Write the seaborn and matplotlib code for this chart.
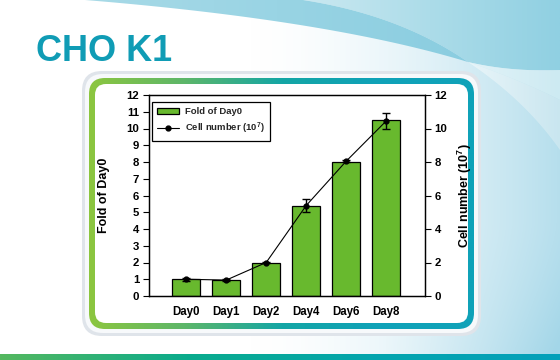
import numpy as np
import matplotlib
matplotlib.use("Agg")
import matplotlib.pyplot as plt
import seaborn as sns
from matplotlib.patches import FancyBboxPatch, Polygon, Rectangle
from matplotlib.lines import Line2D
from matplotlib.colors import LinearSegmentedColormap

# ---------------- data ----------------
days = ["Day0", "Day1", "Day2", "Day4", "Day6", "Day8"]
fold_of_day0 = [1.0, 0.97, 1.95, 5.4, 8.0, 10.5]
cell_number = [1.0, 0.95, 2.0, 5.4, 8.05, 10.45]
cell_err = [0.1, 0.08, 0.05, 0.4, 0.05, 0.5]
left_ticks = list(range(0, 13))
right_ticks = [0, 2, 4, 6, 8, 10, 12]
title = "CHO K1"
left_label = "Fold of Day0"
right_label = "Cell number (10$^{7}$)"
legend_labels = ["Fold of Day0", "Cell number (10$^{7}$)"]

# ---------------- style ----------------
sns.set_theme(style="white")
plt.rcParams['font.family'] = ['Liberation Sans', 'DejaVu Sans']
plt.rcParams['font.weight'] = 'bold'
plt.rcParams['mathtext.fontset'] = 'custom'
plt.rcParams['mathtext.rm'] = 'Liberation Sans:bold'
plt.rcParams['mathtext.it'] = 'Liberation Sans:bold'
plt.rcParams['mathtext.bf'] = 'Liberation Sans:bold'

W, H = 560, 360
fig = plt.figure(figsize=(5.6, 3.6), dpi=100)
bg = fig.add_axes([0, 0, 1, 1], zorder=0)
bg.set_xlim(0, W)
bg.set_ylim(H, 0)
bg.axis('off')

# background gradient
yy, xx = np.mgrid[0:H, 0:W].astype(float)
w = np.clip((xx - 250) / 310, 0, 1) ** 1.6 * 0.8 + np.clip((yy - 220) / 140, 0, 1) ** 1.5 * 0.25 * np.clip((xx - 380) / 180, 0, 1)
w = np.clip(w, 0, 1)[..., None]
white = np.array([1.0, 1.0, 1.0])
tint = np.array([0.64, 0.84, 0.91])
img = white * (1 - w) + tint * w
bg.imshow(img, extent=[0, W, H, 0], aspect='auto', zorder=0, interpolation='bilinear')


def bez(p0, p1, p2, n=60):
    t = np.linspace(0, 1, n)[:, None]
    p0, p1, p2 = map(np.array, (p0, p1, p2))
    return (1 - t) ** 2 * p0 + 2 * (1 - t) * t * p1 + t ** 2 * p2


def grad_fill(ax, verts, colors, extent, horizontal=True, z=1, alpha=1.0):
    poly = Polygon(verts, closed=True, facecolor='none', edgecolor='none')
    ax.add_patch(poly)
    cmap = LinearSegmentedColormap.from_list('g', colors)
    g = np.linspace(0, 1, 256)
    arr = g[None, :] if horizontal else g[:, None]
    im = ax.imshow(arr, cmap=cmap, extent=extent, aspect='auto', zorder=z,
                   interpolation='bilinear', alpha=alpha)
    im.set_clip_path(poly)


# swoosh
meet = (468, 62)
curveA = bez((85, 0), (330, 20), meet)
curveB = bez((303, 0), (400, 15), meet)
right_up = bez(meet, (510, 72), (560, 70))
right_lo = bez(meet, (520, 80), (560, 100))
# region above B (top right)
vA = np.vstack([curveB, right_up, [[560, 0]]])
grad_fill(bg, vA, ['#cbe9f1', '#acdce9', '#90d0e2'], [300, 560, 70, 0], z=1)
# band between A and B
vB = np.vstack([curveA, curveB[::-1]])
grad_fill(bg, vB, ['#a8dae7', '#99d4e4', '#8acde0'], [85, 470, 70, 0], z=1)
# light streak to the right of meeting point
vC = np.vstack([right_up, right_lo[::-1]])
grad_fill(bg, vC, ['#e2f3f8', '#cdeaf2'], [468, 560, 110, 55], z=1)
vD = np.vstack([right_lo, [[560, 150]], bez((560, 150), (525, 100), meet)])
grad_fill(bg, vD, ['#eef8fb', '#cfe9f1'], [468, 560, 150, 60], z=1, alpha=0.8)

# frame
halo = FancyBboxPatch((82, 71), 399, 265, boxstyle="round,pad=0,rounding_size=20",
                      facecolor='#dfe4ea', edgecolor='none', zorder=2)
bg.add_patch(halo)
halo2 = FancyBboxPatch((85, 74), 393, 259, boxstyle="round,pad=0,rounding_size=18",
                       facecolor='#f7f9fb', edgecolor='none', zorder=2)
bg.add_patch(halo2)
outer = FancyBboxPatch((89, 78), 385, 251, boxstyle="round,pad=0,rounding_size=16",
                       facecolor='none', edgecolor='none', zorder=3)
bg.add_patch(outer)
cm_frame = LinearSegmentedColormap.from_list('f', ['#8cc63f', '#5cb66a', '#14a6a5', '#10a2b8', '#10a2b8'])
im = bg.imshow(np.linspace(0, 1, 256)[None, :], cmap=cm_frame, extent=[89, 474, 329, 78],
               aspect='auto', zorder=3, interpolation='bilinear')
im.set_clip_path(outer)
inner = FancyBboxPatch((95, 84), 373, 239, boxstyle="round,pad=0,rounding_size=11",
                       facecolor='white', edgecolor='none', zorder=4)
bg.add_patch(inner)

# bottom bar
cm_bar = LinearSegmentedColormap.from_list('b', ['#55b85f', '#0aab8c', '#03a5ae', '#05a0ba'])
bg.imshow(np.linspace(0, 1, 256)[None, :], cmap=cm_bar, extent=[0, W, H, 354],
          aspect='auto', zorder=5, interpolation='bilinear')

# title
bg.text(36, 61, title, fontsize=26, fontweight='bold', color='#109cb5',
        va='baseline', ha='left', zorder=6)

# ---------------- chart ----------------
ax = fig.add_axes([149 / W, 64 / H, 276 / W, 201 / H], zorder=5)
ax.patch.set_alpha(0)
sns.barplot(x=days, y=fold_of_day0, color='#68b92e', edgecolor='black', linewidth=0.9,
            width=0.7, saturation=1, ax=ax)
ax.set_xlim(-0.93, 5.97)
ax.set_ylim(0, 12)
ax.set_yticks(left_ticks)
ax.set_xlabel("")
ax.set_ylabel(left_label, fontsize=9, fontweight='bold', color='black')
ax.yaxis.set_label_coords(-0.142, 0.5)
ax.tick_params(axis='y', left=True, direction='out', length=4, width=0.8,
               labelsize=8.2, colors='black', pad=3)
ax.tick_params(axis='x', bottom=False, labelsize=8.3, colors='black', pad=1.5)
for lab in ax.get_xticklabels() + ax.get_yticklabels():
    lab.set_fontweight('bold')
for s in ax.spines.values():
    s.set_visible(True)
    s.set_color('black')
    s.set_linewidth(0.9)

ax2 = ax.twinx()
ax2.errorbar(np.arange(len(days)), cell_number, yerr=cell_err, color='black', lw=0.8,
             marker='o', ms=3.5, capsize=3, elinewidth=1, capthick=1, zorder=6)
ax2.set_ylim(0, 12)
ax2.set_yticks(right_ticks)
ax2.set_ylabel(right_label, fontsize=9, fontweight='bold', color='black')
ax2.yaxis.set_label_coords(1.11, 0.5)
ax2.tick_params(axis='y', right=True, direction='out', length=4, width=0.8,
                labelsize=8.2, colors='black', pad=3)
for lab in ax2.get_yticklabels():
    lab.set_fontweight('bold')
for s in ax2.spines.values():
    s.set_visible(True)
    s.set_color('black')
    s.set_linewidth(0.9)

handles = [Rectangle((0, 0), 1, 1, facecolor='#68b92e', edgecolor='black', linewidth=0.9),
           Line2D([], [], color='black', lw=0.8, marker='o', ms=3.5)]
leg = ax2.legend(handles, legend_labels, loc='upper left', bbox_to_anchor=(0.011, 0.965),
                 frameon=True, fancybox=False, framealpha=1, edgecolor='black',
                 prop={'size': 6.8, 'weight': 'bold'}, handlelength=2.3, handleheight=0.6,
                 borderpad=0.55, labelspacing=0.45, handletextpad=0.6, borderaxespad=0)
leg.get_frame().set_linewidth(0.9)

fig.savefig("out.png", dpi=100)
